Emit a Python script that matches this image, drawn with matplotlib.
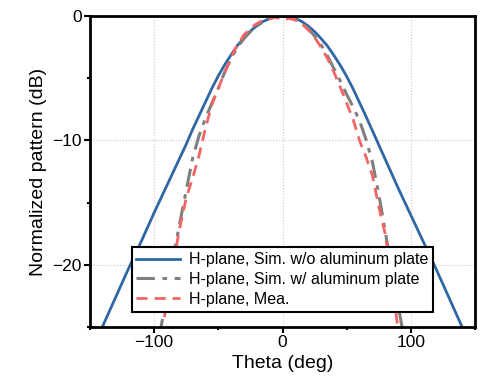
import matplotlib
matplotlib.use("Agg")
import matplotlib.pyplot as plt
from matplotlib.ticker import MultipleLocator

plt.rcParams["font.family"] = ["Liberation Sans", "DejaVu Sans"]

# H-plane, Sim. w/o aluminum plate
theta_blue = [-146, -140, -130, -120, -110, -100, -90, -80, -75, -70, -65, -60, -55, -50, -45, -40,
              -35, -30, -25, -20, -15, -10, -5, 0, 5, 10, 15, 20, 25, 30, 35, 40, 45, 50, 55, 60,
              65, 70, 75, 80, 90, 100, 110, 120, 130, 140, 146]
gain_blue = [-26.3, -24.9, -22.6, -20.3, -18.1, -15.8, -13.6, -11.4, -10.3, -9.1, -8.0, -6.9, -5.8, -4.8,
             -3.9, -3.1, -2.35, -1.75, -1.2, -0.77, -0.43, -0.19, -0.05, 0.0, -0.05, -0.19, -0.43, -0.8,
             -1.25, -1.8, -2.4, -3.15, -3.95, -4.85, -5.85, -6.95, -8.05, -9.2, -10.35, -11.5, -13.8,
             -16.0, -18.2, -20.4, -22.7, -25.0, -26.4]

# H-plane, Sim. w/ aluminum plate
theta_gray = [-96, -90, -85, -80, -75, -70, -65, -60, -55, -50, -45, -40, -35, -30, -25, -20, -15,
              -10, -5, 0, 5, 10, 15, 20, 25, 30, 35, 40, 45, 50, 55, 60, 65, 70, 75, 80, 85, 90, 94]
gain_gray = [-25.8, -22.3, -19.3, -16.6, -14.0, -11.4, -9.6, -8.2, -7.0, -5.8, -4.5, -3.4, -2.5, -1.8,
             -1.25, -0.8, -0.45, -0.2, -0.05, 0.0, -0.07, -0.3, -0.6, -1.0, -1.6, -2.3, -3.2, -4.2,
             -5.2, -6.3, -7.3, -8.4, -9.9, -11.7, -14.3, -17.3, -20.3, -23.2, -25.5]

# H-plane, Mea.
theta_red = [-92, -90, -85, -80, -75, -70, -65, -60, -55, -50, -45, -40, -35, -30, -25, -20, -15, -10,
             -5, 0, 5, 10, 15, 20, 25, 30, 35, 40, 45, 50, 55, 60, 65, 70, 75, 80, 85, 90]
gain_red = [-24.2, -22.8, -19.8, -17.0, -14.6, -13.0, -11.2, -9.0, -7.1, -5.8, -4.5, -3.3, -2.3, -1.5,
            -1.0, -0.6, -0.35, -0.2, -0.1, -0.3, -0.2, -0.3, -0.6, -1.1, -1.7, -2.5, -3.4, -4.5,
            -5.7, -7.0, -8.3, -10.0, -11.3, -12.8, -15.3, -17.5, -21.0, -25.2]

labels = ["H-plane, Sim. w/o aluminum plate",
          "H-plane, Sim. w/ aluminum plate",
          "H-plane, Mea."]

fig = plt.figure(figsize=(5.0, 3.83), dpi=100)
ax = fig.add_axes([0.18, 0.146, 0.77, 0.812])

ax.plot(theta_blue, gain_blue, color="#2e67a3", lw=2.0, label=labels[0])
ax.plot(theta_gray, gain_gray, color="#7f7f7f", lw=2.2,
        dashes=(6, 2.5, 1.5, 2.5), label=labels[1])
ax.plot(theta_red, gain_red, color="#f46464", lw=2.0,
        dashes=(4, 2.5), label=labels[2])

ax.set_xlim(-150, 150)
ax.set_ylim(-25, 0)
ax.xaxis.set_major_locator(MultipleLocator(100))
ax.xaxis.set_minor_locator(MultipleLocator(50))
ax.yaxis.set_major_locator(MultipleLocator(10))
ax.yaxis.set_minor_locator(MultipleLocator(5))
ax.grid(True, which="major", color="#c8c8c8", ls=":", lw=0.8)

for s in ax.spines.values():
    s.set_linewidth(2.0)
ax.tick_params(which="major", direction="out", length=4, width=1.5, labelsize=12.5, pad=2)
ax.tick_params(which="minor", direction="out", length=2.5, width=1.5)

ax.set_xlabel("Theta (deg)", fontsize=14, labelpad=3)
ax.set_ylabel("Normalized pattern (dB)", fontsize=14, labelpad=4)

leg = ax.legend(loc="lower center", bbox_to_anchor=(0.5, 0.05), fontsize=11.5,
                frameon=True, fancybox=False, framealpha=1, edgecolor="black",
                handlelength=2.7, labelspacing=0.3, borderpad=0.3,
                handletextpad=0.6, borderaxespad=0)
leg.get_frame().set_linewidth(1.5)

fig.savefig("out.png", dpi=100)
